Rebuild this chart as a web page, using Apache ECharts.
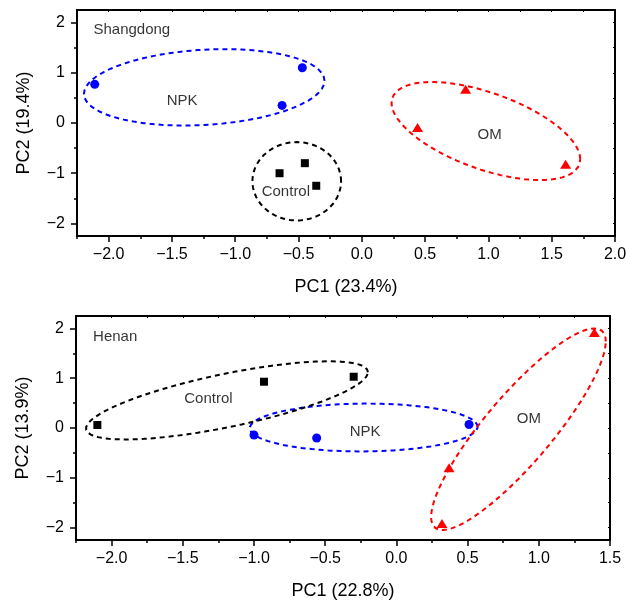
<!DOCTYPE html>
<html>
<head>
<meta charset="utf-8">
<script src="https://cdn.jsdelivr.net/npm/echarts@6/dist/echarts.min.js"></script>
<style>
  html, body { margin: 0; padding: 0; background: #fff; }
  #chart { width: 627px; height: 602px; }
</style>
</head>
<body>
<div id="chart"></div>
<script>
// Shangdong (top panel)
const sdNPK = [[-2.11, 0.77], [-0.47, 1.1], [-0.63, 0.35]]
const sdControl = [[-0.65, -1.0], [-0.45, -0.8], [-0.36, -1.25]]
const sdOM = [[0.44, -0.09], [0.82, 0.67], [1.61, -0.82]]
// ellipse: [cx, cy, sx, sy, rho]
const sdEllNPK = [-1.245, 0.71, 0.95, 0.76, 0.17]
const sdEllControl = [-0.514, -1.16, 0.35, 0.78, 0]
const sdEllOM = [0.98, -0.16, 0.745, 0.976, -0.573]
const sdLabels = [[-1.42, 0.44, 'NPK'], [1.01, -0.23, 'OM'], [-0.6, -1.38, 'Control']]

// Henan (bottom panel)
const hnNPK = [[-1.0, -0.14], [-0.56, -0.2], [0.51, 0.07]]
const hnControl = [[-2.1, 0.06], [-0.93, 0.93], [-0.3, 1.03]]
const hnOM = [[1.39, 1.92], [0.37, -0.8], [0.32, -1.92]]
const hnEllNPK = [-0.23, 0.01, 0.8, 0.48, 0.03]
const hnEllControl = [-1.19, 0.555, 0.99, 0.785, 0.72]
const hnEllOM = [0.857, -0.025, 0.613, 2.025, 0.87]
const hnLabels = [[-1.32, 0.58, 'Control'], [-0.22, -0.08, 'NPK'], [0.93, 0.19, 'OM']]

const xMajorTop = [-2.0, -1.5, -1.0, -0.5, 0.0, 0.5, 1.0, 1.5, 2.0]
const xMinorTop = [-2.25, -1.75, -1.25, -0.75, -0.25, 0.25, 0.75, 1.25, 1.75]
const xMajorBot = [-2.0, -1.5, -1.0, -0.5, 0.0, 0.5, 1.0, 1.5]
const xMinorBot = [-2.25, -1.75, -1.25, -0.75, -0.25, 0.25, 0.75, 1.25]
const yMajor = [-2, -1, 0, 1, 2]
const yMinor = [-1.5, -0.5, 0.5, 1.5]
const yHalf = [-2, -1.5, -1, -0.5, 0, 0.5, 1, 1.5, 2]

const FONT = '"Liberation Sans", Arial, sans-serif'
const BLUE = '#0000ff'
const RED = '#ff0000'
const BLACK = '#000000'

const minus = (s) => s.replace('-', '\u2212')

// 椭圆轮廓点
const ellipse = (e) => {
  const [cx, cy, sx, sy, rho] = e
  const pts = []
  const k = Math.sqrt(1 - rho * rho)
  for (let i = 0; i <= 120; i++) {
    const t = (i / 120) * Math.PI * 2
    pts.push([cx + sx * Math.cos(t), cy + sy * (rho * Math.cos(t) + k * Math.sin(t))])
  }
  return pts
}

const xAxes = (gi, min, max, majors, minors, name) => [
  {
    gridIndex: gi, type: 'value', min: min, max: max, position: 'bottom',
    axisLine: { onZero: false, lineStyle: { color: BLACK, width: 2 } },
    axisTick: { customValues: majors, length: 6, lineStyle: { color: BLACK, width: 1.5 } },
    axisLabel: {
      customValues: majors, margin: 11, fontSize: 16, color: '#000', fontFamily: FONT,
      formatter: (v) => minus(v.toFixed(1)),
    },
    splitLine: { show: false },
    name: name, nameLocation: 'middle', nameGap: 42,
    nameTextStyle: { fontSize: 18, color: '#000', fontFamily: FONT },
  },
  {
    gridIndex: gi, type: 'value', min: min, max: max, position: 'bottom',
    axisLine: { show: false, onZero: false },
    axisTick: { customValues: minors, length: 3, lineStyle: { color: BLACK, width: 1.5 } },
    axisLabel: { show: false },
    splitLine: { show: false },
  },
  {
    gridIndex: gi, type: 'value', min: min, max: max, interval: 0.25, position: 'top',
    axisLine: { onZero: false, lineStyle: { color: BLACK, width: 2 } },
    axisTick: { inside: true, length: 2, lineStyle: { color: BLACK, width: 1 } },
    axisLabel: { show: false },
    splitLine: { show: false },
  },
]

const yAxes = (gi, name) => [
  {
    gridIndex: gi, type: 'value', min: -2.25, max: 2.25, position: 'left',
    axisLine: { onZero: false, lineStyle: { color: BLACK, width: 2 } },
    axisTick: { customValues: yMajor, length: 6, lineStyle: { color: BLACK, width: 1.5 } },
    axisLabel: {
      customValues: yMajor, margin: 12, fontSize: 16, color: '#000', fontFamily: FONT,
      formatter: (v) => minus(String(v)),
    },
    splitLine: { show: false },
    name: name, nameLocation: 'middle', nameGap: 44,
    nameTextStyle: { fontSize: 18, color: '#000', fontFamily: FONT },
  },
  {
    gridIndex: gi, type: 'value', min: -2.25, max: 2.25, position: 'left',
    axisLine: { show: false, onZero: false },
    axisTick: { customValues: yMinor, length: 3, lineStyle: { color: BLACK, width: 1.5 } },
    axisLabel: { show: false },
    splitLine: { show: false },
  },
  {
    gridIndex: gi, type: 'value', min: -2.25, max: 2.25, position: 'right',
    axisLine: { onZero: false, lineStyle: { color: BLACK, width: 2 } },
    axisTick: { customValues: yHalf, inside: true, length: 2, lineStyle: { color: BLACK, width: 1 } },
    axisLabel: { show: false },
    splitLine: { show: false },
  },
]

const points = (ai, data, symbol, size, color) => ({
  type: 'scatter', xAxisIndex: ai, yAxisIndex: ai, data: data,
  symbol: symbol, symbolSize: size, itemStyle: { color: color, opacity: 1 }, z: 5,
})

const ring = (ai, e, color) => ({
  type: 'line', xAxisIndex: ai, yAxisIndex: ai, data: ellipse(e),
  showSymbol: false, symbol: 'none', smooth: false,
  lineStyle: { color: color, width: 2, type: [5, 4] }, z: 3,
})

const texts = (ai, list, align) => ({
  type: 'scatter', xAxisIndex: ai, yAxisIndex: ai,
  data: list.map((d) => ({ value: [d[0], d[1]], name: d[2] })),
  symbolSize: 1, itemStyle: { color: 'transparent' }, z: 6,
  label: {
    show: true, position: 'inside', formatter: '{b}', align: align,
    fontSize: 15, color: '#000', fontFamily: FONT,
  },
})

const option = {
  animation: false,
  backgroundColor: '#fff',
  grid: [
    { left: 77, top: 10, right: 12, height: 226, outerBoundsMode: 'none' },
    { left: 76, top: 316, right: 17, height: 224, outerBoundsMode: 'none' },
  ],
  xAxis: [
    ...xAxes(0, -2.25, 2.0, xMajorTop, xMinorTop, 'PC1 (23.4%)'),
    ...xAxes(1, -2.25, 1.5, xMajorBot, xMinorBot, 'PC1 (22.8%)'),
  ],
  yAxis: [
    ...yAxes(0, 'PC2 (19.4%)'),
    ...yAxes(1, 'PC2 (13.9%)'),
  ],
  series: [
    ring(0, sdEllNPK, BLUE),
    ring(0, sdEllControl, BLACK),
    ring(0, sdEllOM, RED),
    points(0, sdNPK, 'circle', 9, BLUE),
    points(0, sdControl, 'rect', 8, BLACK),
    points(0, sdOM, 'triangle', [11, 9], RED),
    texts(0, sdLabels, 'center'),
    texts(0, [[-2.12, 1.85, 'Shangdong']], 'left'),

    ring(3, hnEllNPK, BLUE),
    ring(3, hnEllControl, BLACK),
    ring(3, hnEllOM, RED),
    points(3, hnNPK, 'circle', 9, BLUE),
    points(3, hnControl, 'rect', 8, BLACK),
    points(3, hnOM, 'triangle', [11, 9], RED),
    texts(3, hnLabels, 'center'),
    texts(3, [[-2.13, 1.83, 'Henan']], 'left'),
  ],
}

const myChart = echarts.init(document.getElementById('chart'))
myChart.setOption(option)
window.addEventListener('resize', () => {
  myChart.resize()
})
</script>
</body>
</html>
